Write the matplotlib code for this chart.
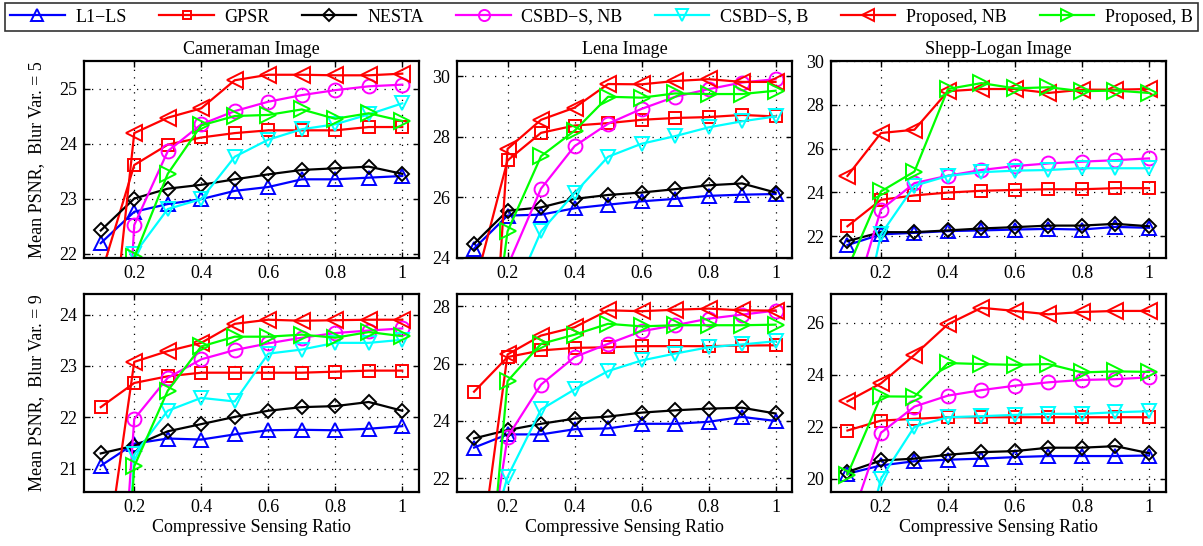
import matplotlib
matplotlib.use("Agg")
import matplotlib.pyplot as plt
from matplotlib.lines import Line2D

plt.rcParams['font.family'] = ['Liberation Serif', 'DejaVu Serif']
plt.rcParams['font.size'] = 12

ratios = [0.1, 0.2, 0.3, 0.4, 0.5, 0.6, 0.7, 0.8, 0.9, 1.0]
x_ticks = [0.2, 0.4, 0.6, 0.8, 1.0]
x_tick_labels = ["0.2", "0.4", "0.6", "0.8", "1"]

methods = ["L1\u2212LS", "GPSR", "NESTA", "CSBD\u2212S, NB", "CSBD\u2212S, B", "Proposed, NB", "Proposed, B"]

titles = ["Cameraman Image", "Lena Image", "Shepp-Logan Image"]
row_labels = ["Mean PSNR,  Blur Var. = 5", "Mean PSNR,  Blur Var. = 9"]
xlabel_text = "Compressive Sensing Ratio"

# ---- Top-left: Cameraman, blur var 5 ----
cam5_l1ls   = [22.19, 22.76, 22.90, 22.99, 23.14, 23.21, 23.35, 23.35, 23.38, 23.41]
cam5_gpsr   = [21.60, 23.61, 23.98, 24.11, 24.19, 24.24, 24.24, 24.24, 24.30, 24.30]
cam5_nesta  = [22.42, 23.00, 23.18, 23.25, 23.35, 23.44, 23.52, 23.55, 23.58, 23.45]
cam5_csnb   = [12.00, 22.52, 23.86, 24.35, 24.59, 24.76, 24.88, 24.97, 25.04, 25.07]
cam5_csb    = [8.00, 21.99, 22.81, 22.99, 23.76, 24.07, 24.26, 24.35, 24.53, 24.73]
cam5_pnb    = [18.50, 24.19, 24.47, 24.64, 25.15, 25.25, 25.25, 25.24, 25.24, 25.27]
cam5_pb     = [10.00, 21.93, 23.45, 24.33, 24.50, 24.52, 24.62, 24.45, 24.55, 24.41]

# ---- Top-middle: Lena, blur var 5 ----
lena5_l1ls  = [24.31, 25.40, 25.43, 25.64, 25.76, 25.87, 25.95, 26.05, 26.09, 26.11]
lena5_gpsr  = [22.98, 27.22, 28.13, 28.37, 28.45, 28.56, 28.62, 28.65, 28.72, 28.67]
lena5_nesta = [24.47, 25.56, 25.67, 25.95, 26.08, 26.16, 26.27, 26.40, 26.46, 26.16]
lena5_csnb  = [18.00, 23.73, 26.29, 27.69, 28.43, 28.92, 29.32, 29.57, 29.79, 29.90]
lena5_csb   = [16.00, 22.34, 24.88, 26.14, 27.34, 27.77, 28.02, 28.31, 28.51, 28.67]
lena5_pnb   = [10.60, 27.60, 28.56, 28.96, 29.74, 29.73, 29.84, 29.90, 29.81, 29.81]
lena5_pb    = [16.50, 24.88, 27.36, 28.20, 29.32, 29.29, 29.43, 29.41, 29.41, 29.52]

# ---- Top-right: Shepp-Logan, blur var 5 ----
shep5_l1ls  = [21.59, 22.08, 22.15, 22.23, 22.26, 22.30, 22.33, 22.30, 22.42, 22.38]
shep5_gpsr  = [22.45, 23.66, 23.86, 23.99, 24.07, 24.11, 24.14, 24.14, 24.19, 24.19]
shep5_nesta = [21.77, 22.18, 22.18, 22.26, 22.35, 22.41, 22.48, 22.48, 22.56, 22.45]
shep5_csnb  = [18.10, 23.21, 24.42, 24.76, 25.02, 25.20, 25.32, 25.40, 25.47, 25.55]
shep5_csb   = [15.00, 22.08, 24.30, 24.75, 24.92, 24.99, 25.02, 25.10, 25.10, 25.10]
shep5_pnb   = [24.75, 26.71, 26.86, 28.62, 28.72, 28.72, 28.54, 28.69, 28.69, 28.72]
shep5_pb    = [20.50, 24.04, 24.95, 28.72, 28.99, 28.75, 28.80, 28.62, 28.65, 28.54]

# ---- Bottom-left: Cameraman, blur var 9 ----
cam9_l1ls   = [21.06, 21.49, 21.59, 21.57, 21.67, 21.75, 21.76, 21.75, 21.78, 21.83]
cam9_gpsr   = [22.20, 22.67, 22.80, 22.87, 22.87, 22.87, 22.87, 22.89, 22.91, 22.91]
cam9_nesta  = [21.30, 21.45, 21.73, 21.87, 22.01, 22.13, 22.20, 22.22, 22.30, 22.13]
cam9_csnb   = [12.60, 21.97, 22.77, 23.13, 23.31, 23.44, 23.55, 23.64, 23.69, 23.73]
cam9_csb    = [10.00, 21.28, 22.13, 22.38, 22.31, 23.24, 23.32, 23.45, 23.45, 23.51]
cam9_pnb    = [18.50, 23.08, 23.29, 23.45, 23.82, 23.90, 23.88, 23.89, 23.90, 23.90]
cam9_pb     = [11.00, 21.05, 22.52, 23.38, 23.57, 23.57, 23.61, 23.55, 23.66, 23.58]

# ---- Bottom-middle: Lena, blur var 9 ----
lena9_l1ls  = [23.07, 23.53, 23.53, 23.71, 23.74, 23.90, 23.90, 23.97, 24.14, 24.00]
lena9_gpsr  = [25.02, 26.23, 26.46, 26.55, 26.57, 26.61, 26.61, 26.61, 26.63, 26.64]
lena9_nesta = [23.39, 23.68, 23.90, 24.08, 24.15, 24.29, 24.37, 24.43, 24.46, 24.26]
lena9_csnb  = [15.80, 23.44, 25.27, 26.23, 26.69, 27.13, 27.34, 27.57, 27.71, 27.85]
lena9_csb   = [18.00, 22.05, 24.40, 25.10, 25.74, 26.11, 26.35, 26.57, 26.67, 26.78]
lena9_pnb   = [17.60, 26.32, 26.98, 27.27, 27.86, 27.83, 27.88, 27.92, 27.86, 27.85]
lena9_pb    = [12.50, 25.39, 26.69, 27.01, 27.39, 27.30, 27.34, 27.34, 27.34, 27.36]

# ---- Bottom-right: Shepp-Logan, blur var 9 ----
shep9_l1ls  = [20.20, 20.52, 20.68, 20.74, 20.78, 20.84, 20.88, 20.88, 20.88, 20.90]
shep9_gpsr  = [21.86, 22.24, 22.31, 22.37, 22.37, 22.37, 22.37, 22.37, 22.37, 22.37]
shep9_nesta = [20.27, 20.71, 20.78, 20.93, 21.03, 21.07, 21.20, 21.20, 21.26, 20.99]
shep9_csnb  = [18.00, 21.77, 22.78, 23.20, 23.41, 23.58, 23.71, 23.80, 23.83, 23.90]
shep9_csb   = [14.90, 20.01, 22.01, 22.37, 22.41, 22.46, 22.50, 22.50, 22.56, 22.60]
shep9_pnb   = [22.98, 23.67, 24.76, 25.94, 26.57, 26.45, 26.32, 26.41, 26.45, 26.45]
shep9_pb    = [20.17, 23.17, 23.16, 24.45, 24.41, 24.38, 24.41, 24.09, 24.13, 24.11]

panels = [
    [cam5_l1ls, cam5_gpsr, cam5_nesta, cam5_csnb, cam5_csb, cam5_pnb, cam5_pb],
    [lena5_l1ls, lena5_gpsr, lena5_nesta, lena5_csnb, lena5_csb, lena5_pnb, lena5_pb],
    [shep5_l1ls, shep5_gpsr, shep5_nesta, shep5_csnb, shep5_csb, shep5_pnb, shep5_pb],
    [cam9_l1ls, cam9_gpsr, cam9_nesta, cam9_csnb, cam9_csb, cam9_pnb, cam9_pb],
    [lena9_l1ls, lena9_gpsr, lena9_nesta, lena9_csnb, lena9_csb, lena9_pnb, lena9_pb],
    [shep9_l1ls, shep9_gpsr, shep9_nesta, shep9_csnb, shep9_csb, shep9_pnb, shep9_pb],
]
y_limits = [(21.92, 25.5), (24.0, 30.5), (21.0, 30.0),
            (20.55, 24.4), (21.52, 28.43), (19.5, 27.1)]
y_ticks = [[22, 23, 24, 25], [24, 26, 28, 30], [22, 24, 26, 28, 30],
           [21, 22, 23, 24], [22, 24, 26, 28], [20, 22, 24, 26]]

colors = ['#0000ff', '#ff0000', '#000000', '#ff00ff', '#00ffff', '#ff0000', '#00ff00']
markers = ['^', 's', 'D', 'o', 'v', '<', '>']
msizes = [10, 8, 7.5, 10, 10, 11, 11]

W, H = 1203, 546
fig = plt.figure(figsize=(W / 100, H / 100), dpi=100)

lefts = [84, 457.3, 830.7]
aw = 335
rows = [(61, 258), (294, 492)]

axes = []
for r, (top, bot) in enumerate(rows):
    for c, lx in enumerate(lefts):
        ax = fig.add_axes([lx / W, 1 - bot / H, aw / W, (bot - top) / H])
        axes.append(ax)

for i, ax in enumerate(axes):
    for j, series in enumerate(panels[i]):
        ax.plot(ratios, series, color=colors[j], marker=markers[j],
                markersize=msizes[j], markerfacecolor='none',
                markeredgewidth=1.4, linewidth=1.6, clip_on=True)
    ax.set_xlim(0.05, 1.05)
    ax.set_ylim(*y_limits[i])
    ax.set_xticks(x_ticks)
    ax.set_xticklabels(x_tick_labels)
    ax.set_yticks(y_ticks[i])
    ax.tick_params(direction='in', top=True, right=True, length=4,
                   width=1, labelsize=13, pad=5)
    ax.grid(True, color='black', linestyle=(0, (1, 5)), linewidth=0.9)
    for s in ax.spines.values():
        s.set_linewidth(1.6)
    if i < 3:
        ax.set_title(titles[i], fontsize=13, pad=5)
    if i >= 3:
        ax.set_xlabel(xlabel_text, fontsize=13, labelpad=2)
    if i % 3 == 0:
        ax.set_ylabel(row_labels[i // 3], fontsize=13, labelpad=10)

handles = [Line2D([], [], color=colors[j], marker=markers[j], markersize=msizes[j] * 0.8,
                  markerfacecolor='none', markeredgewidth=1.4, linewidth=1.6)
           for j in range(len(methods))]
leg = fig.legend(handles, methods, loc='center', ncol=7, mode='expand',
                 bbox_to_anchor=(5 / W, 1 - 32 / H, 1193 / W, 30 / H),
                 frameon=True, fancybox=False, edgecolor='black',
                 fontsize=13, handlelength=3.0, handletextpad=0.6,
                 borderaxespad=0, borderpad=0.3, columnspacing=1.0)
leg.get_frame().set_linewidth(1.2)

fig.savefig("out.png", dpi=100)
